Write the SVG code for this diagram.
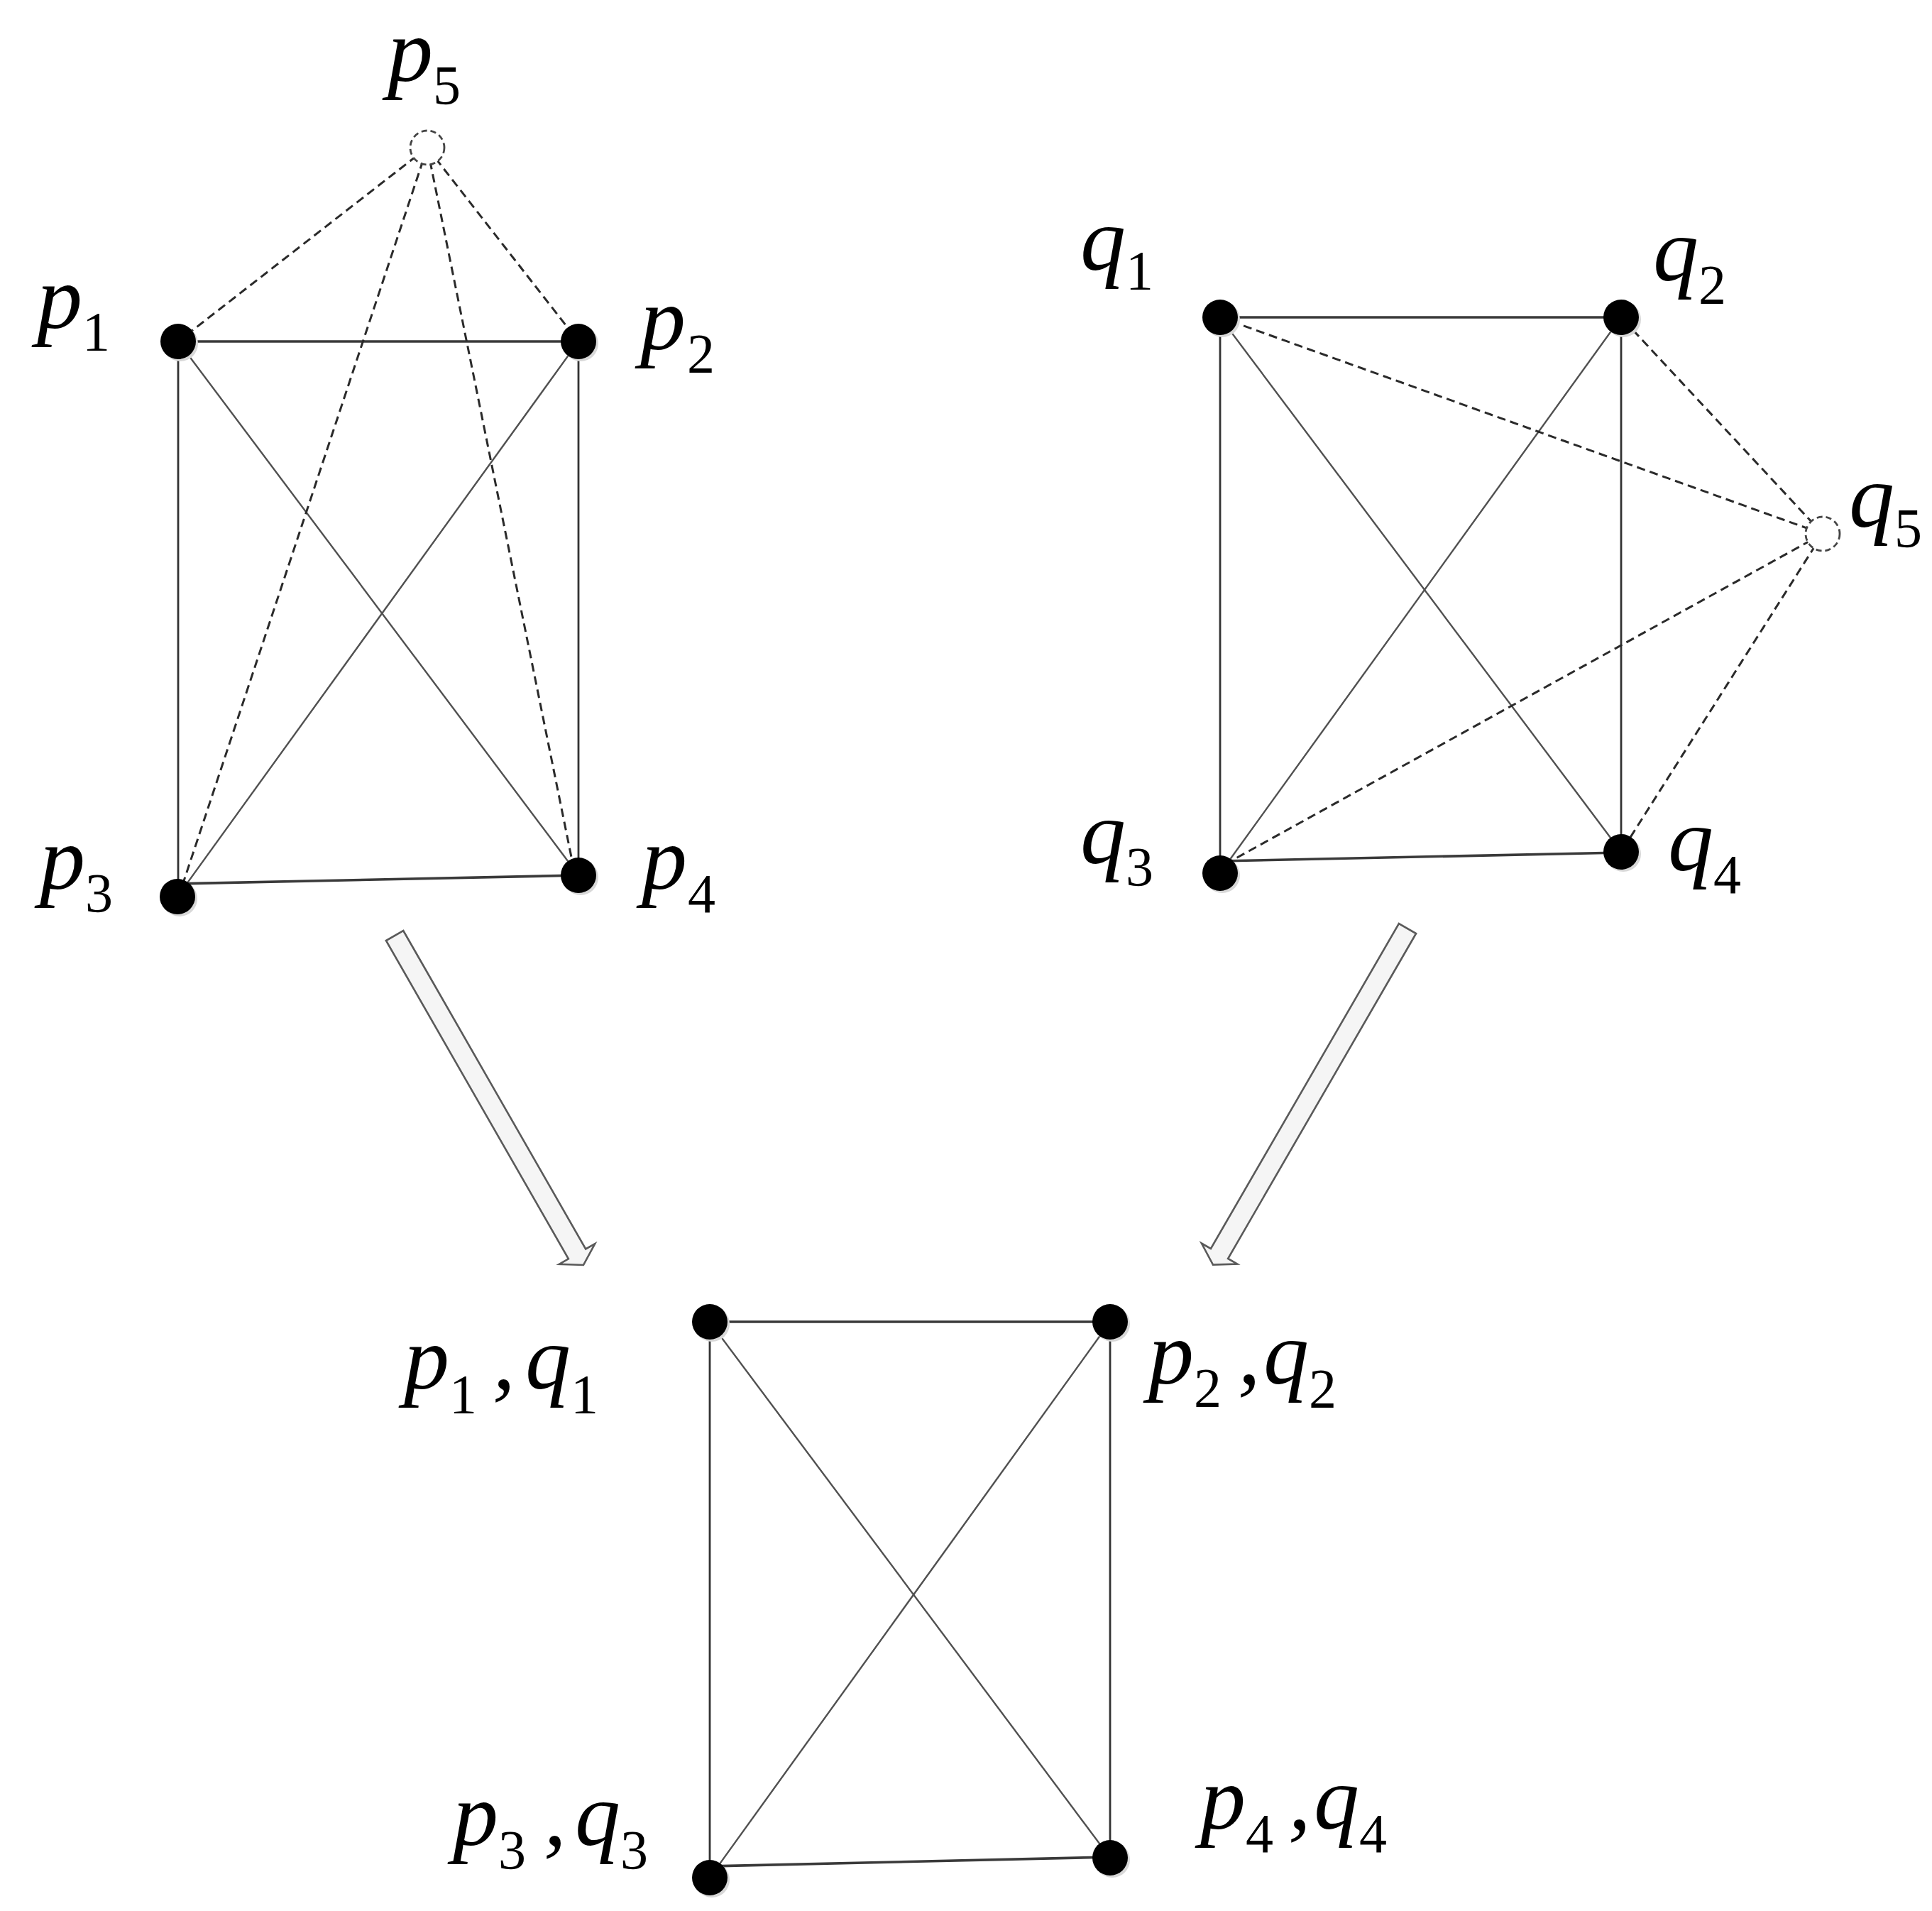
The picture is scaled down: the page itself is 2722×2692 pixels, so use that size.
<svg xmlns="http://www.w3.org/2000/svg" width="2722" height="2692" viewBox="0 0 2722 2692">
<style>
.bg{fill:#ffffff}
.e{stroke:#333333;stroke-width:2.8;fill:none}
.h{stroke:#3a3a3a;stroke-width:3.6;fill:none}
.d{stroke:#505050;stroke-width:2.4;fill:none}
.ds{stroke:#2a2a2a;stroke-width:3;fill:none;stroke-dasharray:12 7}
.n{fill:#000000}
.sh{fill:#d8d8d8}
.hol{fill:#ffffff;stroke:#444444;stroke-width:2.8;stroke-dasharray:8 5}
.ar{fill:#f5f5f5;stroke:#5a5a5a;stroke-width:2.6;stroke-linejoin:miter}
.l{font-family:"Liberation Serif","Times New Roman",serif;font-style:italic;font-size:128px;fill:#000}
.s{font-family:"Liberation Serif","Times New Roman",serif;font-size:78px;fill:#000}
</style>
<rect class="bg" x="0" y="0" width="2722" height="2692"/>

<g id="connectors">
  <line class="h" x1="251" y1="481" x2="815" y2="481"/>
  <line class="e" x1="251" y1="481" x2="251" y2="1263"/>
  <line class="e" x1="815" y1="481" x2="815" y2="1233"/>
  <line class="h" x1="250" y1="1245" x2="815" y2="1233"/>
  <line class="d" x1="251" y1="481" x2="815" y2="1233"/>
  <line class="d" x1="815" y1="481" x2="250" y2="1263"/>
  <line class="ds" x1="602" y1="208" x2="251" y2="481"/>
  <line class="ds" x1="602" y1="208" x2="815" y2="481"/>
  <line class="ds" x1="602" y1="208" x2="256" y2="1250"/>
  <line class="ds" x1="602" y1="208" x2="808" y2="1222"/>
  <line class="h" x1="1719" y1="447" x2="2284" y2="447"/>
  <line class="e" x1="1719" y1="447" x2="1719" y2="1230"/>
  <line class="e" x1="2284" y1="447" x2="2284" y2="1200"/>
  <line class="h" x1="1719" y1="1213" x2="2284" y2="1201"/>
  <line class="d" x1="1719" y1="447" x2="2284" y2="1200"/>
  <line class="d" x1="2284" y1="447" x2="1719" y2="1230"/>
  <line class="ds" x1="2568" y1="752" x2="1719" y2="447"/>
  <line class="ds" x1="2568" y1="752" x2="2284" y2="447"/>
  <line class="ds" x1="2568" y1="752" x2="1725" y2="1218"/>
  <line class="ds" x1="2568" y1="752" x2="2284" y2="1200"/>
  <line class="h" x1="1000" y1="1862" x2="1564" y2="1862"/>
  <line class="e" x1="1000" y1="1862" x2="1000" y2="2645"/>
  <line class="e" x1="1564" y1="1862" x2="1564" y2="2617"/>
  <line class="h" x1="1000" y1="2629" x2="1564" y2="2616"/>
  <line class="d" x1="1000" y1="1862" x2="1564" y2="2617"/>
  <line class="d" x1="1564" y1="1862" x2="1000" y2="2645"/>
</g>

<g id="arrows">
  <polygon class="ar" points="568.2,1311.0 825.2,1759.4 838.2,1752.0 822,1782 787.9,1780.8 800.9,1773.3 543.9,1325.0"/>
  <polygon class="ar" points="1995.1,1315.0 1730.1,1773.0 1743.1,1780.5 1709,1781.6 1692.9,1751.5 1705.9,1759.0 1970.9,1301.0"/>
</g>

<g id="node-p5">
  <circle class="hol" cx="602" cy="208" r="24"/>
  <text class="l" x="546" y="114">p</text><text class="s" x="610" y="146">5</text>
</g>
<g id="node-p1">
  <circle class="sh" cx="254" cy="484" r="25"/><circle class="n" cx="251" cy="481" r="25"/>
  <text class="l" x="52" y="462">p</text><text class="s" x="116" y="493">1</text>
</g>
<g id="node-p2">
  <circle class="sh" cx="818" cy="484" r="25"/><circle class="n" cx="815" cy="481" r="25"/>
  <text class="l" x="902" y="492">p</text><text class="s" x="968" y="524">2</text>
</g>
<g id="node-p3">
  <circle class="sh" cx="253" cy="1266" r="25"/><circle class="n" cx="250" cy="1263" r="25"/>
  <text class="l" x="56" y="1252">p</text><text class="s" x="120" y="1284">3</text>
</g>
<g id="node-p4">
  <circle class="sh" cx="818" cy="1236" r="25"/><circle class="n" cx="815" cy="1233" r="25"/>
  <text class="l" x="904" y="1252">p</text><text class="s" x="969" y="1285">4</text>
</g>

<g id="node-q1">
  <circle class="sh" cx="1722" cy="450" r="25"/><circle class="n" cx="1719" cy="447" r="25"/>
  <text class="l" x="1522" y="380">q</text><text class="s" x="1586" y="407">1</text>
</g>
<g id="node-q2">
  <circle class="sh" cx="2287" cy="450" r="25"/><circle class="n" cx="2284" cy="447" r="25"/>
  <text class="l" x="2329" y="395">q</text><text class="s" x="2393" y="427">2</text>
</g>
<g id="node-q5">
  <circle class="hol" cx="2568" cy="752" r="24"/>
  <text class="l" x="2605" y="742">q</text><text class="s" x="2669" y="770">5</text>
</g>
<g id="node-q3">
  <circle class="sh" cx="1722" cy="1233" r="25"/><circle class="n" cx="1719" cy="1230" r="25"/>
  <text class="l" x="1522" y="1216">q</text><text class="s" x="1586" y="1247">3</text>
</g>
<g id="node-q4">
  <circle class="sh" cx="2287" cy="1203" r="25"/><circle class="n" cx="2284" cy="1200" r="25"/>
  <text class="l" x="2350" y="1226">q</text><text class="s" x="2414" y="1258">4</text>
</g>

<g id="node-pq1">
  <circle class="sh" cx="1003" cy="1865" r="25"/><circle class="n" cx="1000" cy="1862" r="25"/>
  <text class="l" x="569" y="1956">p</text><text class="s" x="633" y="1990">1</text>
  <text class="l" x="694" y="1956">,</text>
  <text class="l" x="740" y="1956">q</text><text class="s" x="804" y="1990">1</text>
</g>
<g id="node-pq2">
  <circle class="sh" cx="1567" cy="1865" r="25"/><circle class="n" cx="1564" cy="1862" r="25"/>
  <text class="l" x="1618" y="1949">p</text><text class="s" x="1682" y="1981">2</text>
  <text class="l" x="1744" y="1949">,</text>
  <text class="l" x="1780" y="1949">q</text><text class="s" x="1844" y="1982">2</text>
</g>
<g id="node-pq3">
  <circle class="sh" cx="1003" cy="2648" r="25"/><circle class="n" cx="1000" cy="2645" r="25"/>
  <text class="l" x="638" y="2599">p</text><text class="s" x="702" y="2632">3</text>
  <text class="l" x="766" y="2599">,</text>
  <text class="l" x="810" y="2599">q</text><text class="s" x="874" y="2632">3</text>
</g>
<g id="node-pq4">
  <circle class="sh" cx="1567" cy="2620" r="25"/><circle class="n" cx="1564" cy="2617" r="25"/>
  <text class="l" x="1691" y="2576">p</text><text class="s" x="1755" y="2609">4</text>
  <text class="l" x="1815" y="2576">,</text>
  <text class="l" x="1851" y="2576">q</text><text class="s" x="1915" y="2609">4</text>
</g>
</svg>
